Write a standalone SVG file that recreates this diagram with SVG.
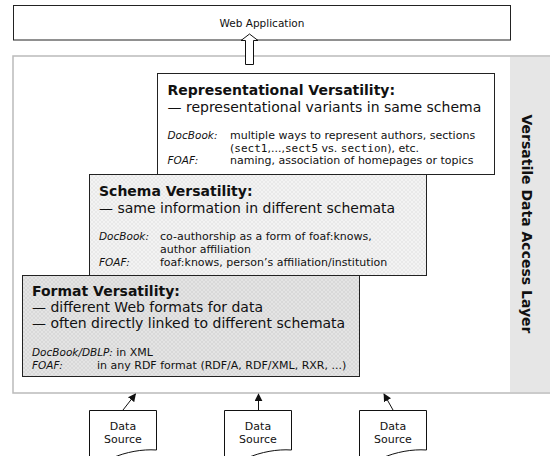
<svg xmlns="http://www.w3.org/2000/svg" width="550" height="456" viewBox="0 0 550 456">
  <style>
    text { font-family: "DejaVu Sans", "Liberation Sans", sans-serif; fill: #111; }
    .box { stroke: #222; stroke-width: 1; }
    .h { font-weight: bold; font-size: 14px; }
    .sub { font-size: 14px; }
    .sm { font-size: 11px; }
    .it { font-style: italic; font-size: 10.5px; }
    .mono { font-family: "DejaVu Sans Mono", "Liberation Mono", monospace; }
    .frame { fill: #fff; stroke: #bbb; stroke-width: 1.5; }
    .doc { fill: #fff; stroke: #111; stroke-width: 1; }
    .link { stroke: #111; stroke-width: 1; fill: none; marker-end: url(#head); }
  </style>
  <defs>
    <marker id="head" viewBox="0 0 10 10" refX="9" refY="5" markerWidth="8" markerHeight="8" markerUnits="userSpaceOnUse" orient="auto">
      <path d="M0,0 L10,5 L0,10 z" fill="#111"/>
    </marker>
    <pattern id="hatchLight" width="4" height="4" patternUnits="userSpaceOnUse">
      <rect width="4" height="4" fill="#f3f3f3"/>
      <path d="M0,0 L4,4 M4,0 L0,4" stroke="#e3e3e3" stroke-width="0.6"/>
    </pattern>
    <pattern id="hatchDark" width="4" height="4" patternUnits="userSpaceOnUse">
      <rect width="4" height="4" fill="#e4e4e4"/>
      <path d="M0,0 L4,4 M4,0 L0,4" stroke="#d2d2d2" stroke-width="0.6"/>
    </pattern>
  </defs>

  <!-- application on top -->
  <g id="web-application">
    <rect class="box" x="13.5" y="5.5" width="497" height="34.5" fill="#fff"/>
    <text x="262" y="27" font-size="10.5" text-anchor="middle">Web Application</text>
  </g>

  <!-- the access layer frame with its side label -->
  <g id="access-layer">
    <path class="frame" d="M550,56 H13 V393 H550"/>
    <rect x="510" y="57" width="40" height="335" fill="#e6e6e6"/>
    <text x="0" y="0" transform="translate(522,224) rotate(90)" font-size="14" font-weight="bold" text-anchor="middle">Versatile Data Access Layer</text>
  </g>

  <!-- hollow arrow from the layer up to the application -->
  <g id="layer-to-app">
    <path d="M249.5,34 L258,40.5 L253.5,40.5 L253.5,64.5 L245.5,64.5 L245.5,40.5 L241,40.5 Z" fill="#fff" stroke="#111" stroke-width="1"/>
  </g>

  <!-- format versatility (bottom card) -->
  <g id="format-versatility">
    <rect class="box" x="22.5" y="275.5" width="337" height="101" fill="url(#hatchDark)"/>
    <text class="h" x="32" y="296">Format Versatility:</text>
    <text class="sub" x="32" y="312">— different Web formats for data</text>
    <text class="sub" x="32" y="328">— often directly linked to different schemata</text>
    <text class="sm" x="32" y="356"><tspan class="it">DocBook/DBLP:</tspan> in XML</text>
    <text class="sm it" x="32" y="369">FOAF:</text>
    <text class="sm" x="97" y="369">in any RDF format (RDF/A, RDF/XML, RXR, ...)</text>
  </g>

  <!-- schema versatility (middle card) -->
  <g id="schema-versatility">
    <rect class="box" x="89.5" y="174.5" width="337" height="101" fill="url(#hatchLight)"/>
    <text class="h" x="99" y="196">Schema Versatility:</text>
    <text class="sub" x="99" y="213">— same information in different schemata</text>
    <text class="sm it" x="99" y="240">DocBook:</text>
    <text class="sm" x="160" y="240">co-authorship as a form of foaf:knows,</text>
    <text class="sm" x="160" y="252.5">author affiliation</text>
    <text class="sm it" x="99" y="266">FOAF:</text>
    <text class="sm" x="160" y="266">foaf:knows, person’s affiliation/institution</text>
  </g>

  <!-- representational versatility (top card) -->
  <g id="representational-versatility">
    <rect class="box" x="157.5" y="73.5" width="337" height="101" fill="#fff"/>
    <text class="h" x="167.5" y="95">Representational Versatility:</text>
    <text class="sub" x="167.5" y="112">— representational variants in same schema</text>
    <text class="sm it" x="167.5" y="139">DocBook:</text>
    <text class="sm" x="230" y="139">multiple ways to represent authors, sections</text>
    <text class="sm" x="230" y="151.5">(<tspan class="mono">sect1</tspan>,...,<tspan class="mono">sect5</tspan> vs. <tspan class="mono">section</tspan>), etc.</text>
    <text class="sm it" x="167.5" y="164">FOAF:</text>
    <text class="sm" x="230" y="164">naming, association of homepages or topics</text>
  </g>

  <!-- data sources -->
  <g id="data-source-1">
    <path class="doc" d="M89.5,470 V410.5 H156.5 V450 C142,449 126,452 112,458"/>
    <text class="sm" x="123" y="429.5" text-anchor="middle">Data</text>
    <text class="sm" x="123" y="443" text-anchor="middle">Source</text>
  </g>
  <g id="data-source-2">
    <path class="doc" d="M224.5,470 V410.5 H291.5 V450 C277,449 261,452 247,458"/>
    <text class="sm" x="258" y="429.5" text-anchor="middle">Data</text>
    <text class="sm" x="258" y="443" text-anchor="middle">Source</text>
  </g>
  <g id="data-source-3">
    <path class="doc" d="M359.5,470 V410.5 H426.5 V450 C412,449 396,452 382,458"/>
    <text class="sm" x="393" y="429.5" text-anchor="middle">Data</text>
    <text class="sm" x="393" y="443" text-anchor="middle">Source</text>
  </g>

  <!-- connectors from sources into the layer -->
  <g id="connectors">
    <path class="link" d="M123,410 L135.5,394"/>
    <path class="link" d="M258.5,410 L258.5,394"/>
    <path class="link" d="M393,410 L384,394"/>
  </g>
</svg>
